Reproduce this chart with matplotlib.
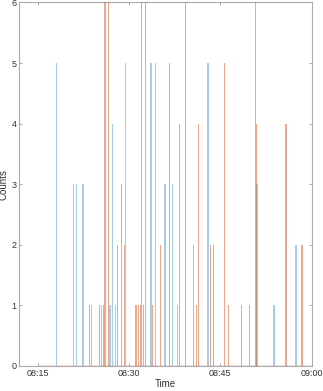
import numpy as np
import matplotlib
matplotlib.use("Agg")
import matplotlib.pyplot as plt

# -----------------------------
# Data (minutes after 08:00, counts)
# -----------------------------
blue_t = [18.07, 20.91, 21.40, 22.42, 23.81, 25.50, 26.88, 27.31, 27.80, 29.44,
          33.61, 34.37, 35.91, 37.16, 37.98, 42.97, 50.98, 53.85, 57.38]
blue_n = [5, 3, 3, 3, 1, 1, 1, 4, 1, 5,
          5, 5, 3, 3, 1, 5, 3, 1, 2]

orange_t = [23.53, 25.13, 25.83, 26.06, 26.69, 28.16, 28.82, 29.26, 31.15, 31.58,
            31.86, 32.02, 32.40, 32.73, 33.82, 35.22, 36.70, 38.29, 39.32, 40.64,
            41.10, 41.42, 43.31, 43.89, 45.69, 46.41, 48.40, 49.79, 50.78, 50.98,
            55.78, 58.41]
orange_n = [1, 1, 1, 6, 6, 2, 3, 2, 1, 1,
            1, 6, 1, 6, 1, 2, 5, 4, 6, 2,
            1, 4, 2, 2, 5, 1, 1, 1, 6, 4,
            4, 2]

tick_pos = [15, 30, 45, 60]
tick_lab = ["08:15", "08:30", "08:45", "09:00"]

# -----------------------------
# Plot
# -----------------------------
plt.rcParams['font.family'] = ['Liberation Sans', 'DejaVu Sans']
blue = (0.0, 0.447, 0.741)
orange = (0.85, 0.325, 0.098)

fig = plt.figure(figsize=(3.23, 3.91), dpi=100)
ax = fig.add_axes([0.06, 0.064, 0.905, 0.9297])

ax.plot([15, 60], [0, 0], color=orange, lw=1.0, alpha=0.7, zorder=1)
ax.bar(blue_t, blue_n, width=0.25, color=blue, alpha=0.35, linewidth=0, zorder=2)
ax.bar(orange_t, orange_n, width=0.18, color=orange, alpha=0.5, linewidth=0, zorder=3)

ax.set_xlim(12, 60)
ax.set_ylim(0, 6)
ax.set_xticks(tick_pos)
ax.set_xticklabels(tick_lab)
ax.set_yticks(range(7))
ax.set_xlabel("Time", fontsize=7, color="#333333", labelpad=1)
ax.set_ylabel("Counts", fontsize=7, color="#333333", labelpad=2)
ax.tick_params(direction="in", length=2.5, width=0.6, colors="#999999",
               labelcolor="#333333", labelsize=6.5, top=True, right=True, pad=2)
for s in ax.spines.values():
    s.set_color("#aaaaaa")
    s.set_linewidth(0.8)

fig.savefig("out.png", dpi=100)
